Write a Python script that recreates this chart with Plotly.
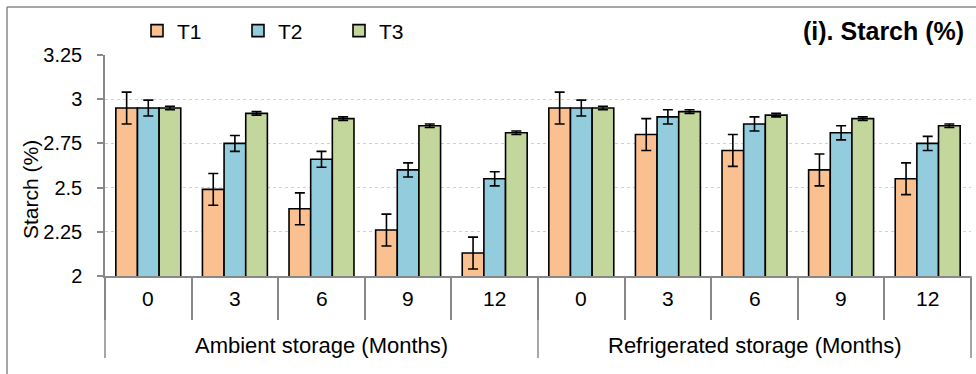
import plotly.graph_objects as go

groups = ["Ambient storage (Months)", "Refrigerated storage (Months)"]
months = ["0", "3", "6", "9", "12"]

t1 = [2.95, 2.49, 2.38, 2.26, 2.13, 2.95, 2.80, 2.71, 2.60, 2.55]
t2 = [2.95, 2.75, 2.66, 2.60, 2.55, 2.95, 2.90, 2.86, 2.81, 2.75]
t3 = [2.95, 2.92, 2.89, 2.85, 2.81, 2.95, 2.93, 2.91, 2.89, 2.85]
t1_err = [0.09, 0.09, 0.09, 0.09, 0.09, 0.09, 0.09, 0.09, 0.09, 0.09]
t2_err = [0.045, 0.045, 0.045, 0.04, 0.04, 0.045, 0.04, 0.04, 0.04, 0.04]
t3_err = [0.01, 0.01, 0.01, 0.01, 0.01, 0.01, 0.01, 0.01, 0.01, 0.01]

series_names = ["T1", "T2", "T3"]
colors = ["#FAC090", "#93CDDD", "#C3D69B"]

x_outer = [g for g in groups for _ in months]
x_inner = [m for _ in groups for m in months]

FONT = "Liberation Sans, Arial, sans-serif"
AX = "#888888"

fig = go.Figure()
for name, vals, errs, col in zip(series_names, [t1, t2, t3], [t1_err, t2_err, t3_err], colors):
    fig.add_trace(go.Bar(
        x=[x_outer, x_inner], y=vals, name=name,
        marker=dict(color=col, line=dict(color="#000000", width=1.6)),
        error_y=dict(type="data", array=errs, color="#000000", thickness=1.6, width=5),
    ))

W, H = 976, 374
L, R, T, B = 105, 5, 55, 98
pw = W - L - R
ph = H - T - B


def px(xp):
    return (xp - L) / pw


def py(yp):
    return (H - B - yp) / ph


annotations = []
n_cat = len(x_inner)
for i, lab in enumerate(x_inner):
    annotations.append(dict(
        text=lab, xref="paper", yref="paper", x=(i + 0.5) / n_cat, y=py(298),
        xanchor="center", yanchor="middle", showarrow=False,
        font=dict(size=21, family=FONT, color="#000000"),
    ))
for g, lab in enumerate(groups):
    annotations.append(dict(
        text=lab, xref="paper", yref="paper", x=(g + 0.5) / len(groups), y=py(345),
        xanchor="center", yanchor="middle", showarrow=False,
        font=dict(size=22, family=FONT, color="#000000"),
    ))
annotations.append(dict(
    text="<b>(i). Starch (%)</b>", xref="paper", yref="paper",
    x=px(966), y=py(31), xanchor="right", yanchor="middle", showarrow=False,
    font=dict(size=25, family=FONT, color="#000000"),
))
annotations.append(dict(
    text="Starch (%)", xref="paper", yref="paper", textangle=-90,
    x=px(30), y=py(190), xanchor="center", yanchor="middle", showarrow=False,
    font=dict(size=21, family=FONT, color="#000000"),
))

shapes = [
    dict(type="line", xref="paper", yref="paper", x0=px(7), x1=px(7), y0=py(7), y1=py(380),
         line=dict(color=AX, width=1.5)),
    dict(type="line", xref="paper", yref="paper", x0=px(7), x1=px(980), y0=py(7), y1=py(7),
         line=dict(color=AX, width=1.5)),
]
for k in range(len(groups) + 1):
    xk = k / len(groups)
    shapes.append(dict(type="line", xref="paper", yref="paper", x0=xk, x1=xk,
                       y0=py(276), y1=py(358), line=dict(color=AX, width=1.5)))

fig.update_layout(
    width=W, height=H,
    margin=dict(l=L, r=R, t=T, b=B, autoexpand=False),
    paper_bgcolor="white", plot_bgcolor="white",
    barmode="group", bargap=0.25, bargroupgap=0,
    font=dict(family=FONT, color="#000000"),
    showlegend=True,
    legend=dict(orientation="h", x=px(137), y=py(31), xanchor="left", yanchor="middle",
                font=dict(size=21), entrywidth=56, entrywidthmode="pixels",
                bgcolor="rgba(0,0,0,0)", traceorder="normal"),
    xaxis=dict(
        type="multicategory", tickson="boundaries",
        showline=True, linecolor=AX, linewidth=1.5,
        ticks="outside", ticklen=42, tickcolor=AX, tickwidth=1.5,
        showdividers=False, showticklabels=False,
        showgrid=False,
    ),
    yaxis=dict(
        range=[2, 3.25], dtick=0.25, tick0=2,
        showline=True, linecolor=AX, linewidth=1.5,
        ticks="outside", ticklen=6, tickcolor=AX, tickwidth=1.5,
        tickfont=dict(size=20, family=FONT), ticklabelstandoff=11,
        showgrid=True, gridcolor="#d0d0d0", griddash="dot", gridwidth=1,
        zeroline=False,
    ),
    annotations=annotations,
    shapes=shapes,
)

fig.write_html("out.html", config={"displayModeBar": False},
               post_script="document.body.style.margin='0px';")
